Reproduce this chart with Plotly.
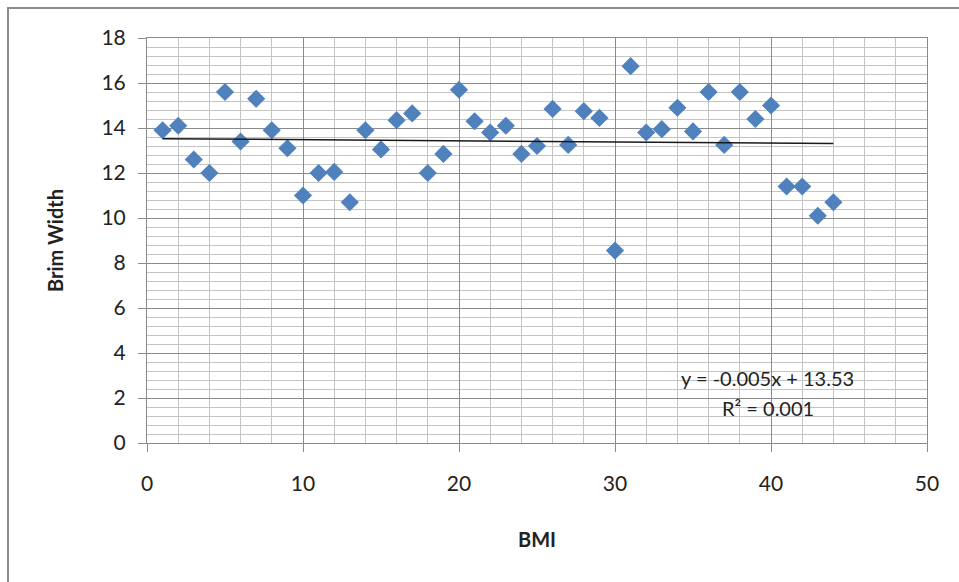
import plotly.graph_objects as go

# BMI index and measured brim width
bmi = list(range(1, 45))
brim_width = [
    13.9, 14.1, 12.6, 12.0, 15.6, 13.4, 15.3, 13.9, 13.1, 11.0,
    12.0, 12.05, 10.7, 13.9, 13.05, 14.35, 14.65, 12.0, 12.85, 15.7,
    14.3, 13.8, 14.1, 12.85, 13.2, 14.85, 13.25, 14.75, 14.45, 8.55,
    16.75, 13.8, 13.95, 14.9, 13.85, 15.6, 13.25, 15.6, 14.4, 15.0,
    11.4, 11.4, 10.1, 10.7,
]

# linear trend line coefficients
slope = -0.005
intercept = 13.53
r_squared = 0.001

x_ticks = [0, 10, 20, 30, 40, 50]
y_ticks = [0, 2, 4, 6, 8, 10, 12, 14, 16, 18]

FONT = "Lato, 'Open Sans', sans-serif"
W, H = 959, 582
L, R, T, B = 147, 32, 38, 139

trend_x = [bmi[0], bmi[-1]]
trend_y = [slope * v + intercept for v in trend_x]

fig = go.Figure()
fig.add_trace(go.Scatter(
    x=bmi, y=brim_width, mode="markers",
    marker=dict(symbol="diamond", size=14, color="#4F81BD",
                line=dict(width=0)),
    showlegend=False,
))
fig.add_trace(go.Scatter(
    x=trend_x, y=trend_y, mode="lines",
    line=dict(color="#1a1a1a", width=1.5),
    showlegend=False,
))

pw = W - L - R
ph = H - T - B


def px_x(p):
    return (p - L) / pw


def px_y(p):
    return (H - B - p) / ph


# outer chart frame
fig.add_shape(type="rect", xref="paper", yref="paper",
              x0=px_x(8), x1=px_x(W + 5), y0=px_y(H + 5), y1=px_y(8),
              line=dict(color="#8c8c8c", width=2), fillcolor="rgba(0,0,0,0)",
              layer="below")

fig.add_annotation(
    x=39.8, y=2.9, xref="x", yref="y",
    text=f"y = {slope}x + {intercept}", showarrow=False,
    font=dict(family=FONT, size=20, color="#222"),
)
fig.add_annotation(
    x=39.8, y=1.55, xref="x", yref="y",
    text=f"R² = {r_squared}", showarrow=False,
    font=dict(family=FONT, size=20, color="#222"),
)

fig.update_layout(
    width=W, height=H,
    margin=dict(l=L, r=R, t=T, b=B),
    paper_bgcolor="white", plot_bgcolor="white",
    font=dict(family=FONT, size=20, color="#222"),
    xaxis=dict(
        range=[0, 50], tickvals=x_ticks, ticktext=[str(v) for v in x_ticks],
        tickfont=dict(family=FONT, size=21, color="#222"),
        ticklabelstandoff=14,
        showgrid=True, gridcolor="#8a8a8a", gridwidth=1,
        minor=dict(dtick=2, showgrid=True, gridcolor="#c4c4c4", gridwidth=1),
        showline=True, linecolor="#8a8a8a", linewidth=1, mirror=True,
        ticks="outside", ticklen=8, tickcolor="#8a8a8a",
        zeroline=False,
        title=dict(text="<b>BMI</b>", standoff=38,
                   font=dict(family=FONT, size=20)),
    ),
    yaxis=dict(
        range=[0, 18], tickvals=y_ticks, ticktext=[str(v) for v in y_ticks],
        tickfont=dict(family=FONT, size=21, color="#222"),
        ticklabelstandoff=8,
        showgrid=True, gridcolor="#8a8a8a", gridwidth=1,
        minor=dict(dtick=0.4, showgrid=True, gridcolor="#c4c4c4", gridwidth=1),
        showline=True, linecolor="#8a8a8a", linewidth=1, mirror=True,
        ticks="outside", ticklen=8, tickcolor="#8a8a8a",
        zeroline=False,
        title=dict(text="<b>Brim Width</b>", standoff=32,
                   font=dict(family=FONT, size=20)),
    ),
)

fig.write_html("out.html")
